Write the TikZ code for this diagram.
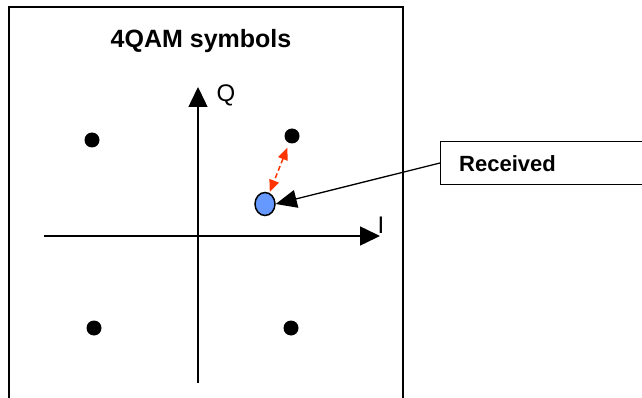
\documentclass[tikz,border=0pt]{standalone}
\usepackage{fontspec}
\setmainfont{Liberation Sans}
\usetikzlibrary{arrows.meta,shapes.geometric}
\definecolor{recvblue}{RGB}{102,153,255}
\definecolor{errred}{RGB}{255,51,0}
\tikzset{
  frame/.style={line width=1.4pt},
  axis/.style={line width=1.5pt,-{Triangle[length=20pt,width=19pt]}},
  sym/.style={circle,fill=black,inner sep=0pt,minimum size=15pt},
  rxsym/.style={ellipse,draw,line width=1.5pt,fill=recvblue,inner sep=0pt,minimum width=20pt,minimum height=23pt},
  err/.style={errred,line width=1.5pt,dash pattern=on 5pt off 3pt,{Triangle[length=12pt,width=10pt]}-{Triangle[length=12pt,width=10pt]}},
  pointer/.style={line width=1.3pt,-{Triangle[length=21pt,width=18pt]}},
  lbl/.style={font=\fontsize{24pt}{28pt}\selectfont,inner sep=0pt,anchor=base},
  blbl/.style={font=\fontsize{25pt}{30pt}\selectfont\bfseries,inner sep=0pt,anchor=base}
}
\begin{document}
\begin{tikzpicture}[x=1pt,y=-1pt]
\clip (0,0) rectangle (642,398);
\fill[white] (0,0) rectangle (642,398);
% outer frame (open at the bottom)
\draw[frame] (9,400) -- (9,7) -- (403,7) -- (403,400);
\node[blbl] (title) at (201,48) {4QAM symbols};
% axes
\coordinate (ybot) at (198,383);
\coordinate (ytop) at (198,87);
\coordinate (xl) at (44,236);
\coordinate (xr) at (380,236);
\draw[axis] (ybot) -- (ytop);
\draw[axis] (xl) -- (xr);
\node[lbl] (Q) at (226,102) {Q};
\node[lbl] (I) at (381,233) {I};
% symbols
\node[sym] (d1) at (92,140) {};
\node[sym] (d2) at (292,136) {};
\node[sym] (d3) at (94,328) {};
\node[sym] (d4) at (291,328) {};
\node[rxsym] (rx) at (265,204) {};
% error vector
\draw[err,shorten <=5pt,shorten >=1pt] (d2) -- (rx);
% received label
\node[draw,line width=1.2pt,minimum width=230pt,minimum height=43pt,anchor=west,inner sep=0pt] (recv) at (440,163) {};
\node[blbl,anchor=base west,font=\fontsize{22pt}{26pt}\selectfont\bfseries] (recvtext) at (459,172) {Received};
\draw[pointer] (recv.west) -- (rx.east);
\end{tikzpicture}
\end{document}
